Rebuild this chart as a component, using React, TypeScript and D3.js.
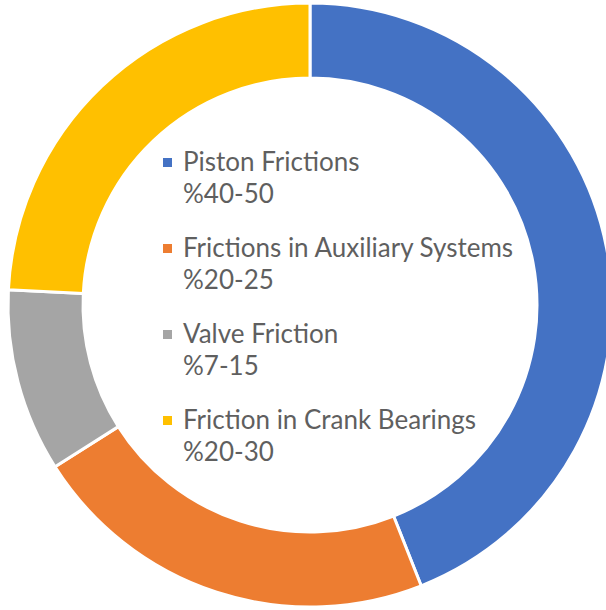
import React from "react";
import * as d3 from "d3";

const categories = ["Piston Frictions", "Frictions in Auxiliary Systems", "Valve Friction", "Friction in Crank Bearings"];
const rangeLabels = ["%40-50", "%20-25", "%7-15", "%20-30"];
const values = [44, 22, 9.8, 24.2];
const colors = ["#4472C4", "#ED7D31", "#A5A5A5", "#FFC000"];

const W = 606;
const H = 610;
const cx = 310;
const cy = 305;
const outerR = 302;
const innerR = 227;

export default function App() {
  const pie = d3.pie<number>().sort(null).value((d) => d);
  const arcs = pie(values);
  const arc = d3.arc<d3.PieArcDatum<number>>().innerRadius(innerR).outerRadius(outerR);

  const legendX = 163;
  const textX = 183;
  const firstBase = 171;
  const itemStep = 86;
  const lineStep = 32;

  return (
    <svg width={W} height={H} style={{ position: "absolute", left: 0, top: 0, background: "#fff" }}>
      <rect x={0} y={0} width={W} height={H} fill="#fff" />
      <g transform={`translate(${cx},${cy})`}>
        {arcs.map((a, i) => (
          <path key={i} d={arc(a) || ""} fill={colors[i]} stroke="#fff" strokeWidth={3} strokeLinejoin="round" />
        ))}
      </g>
      <g fontFamily="Lato, 'Open Sans', sans-serif" fontSize={26} fill="#5f5f5f">
        {categories.map((c, i) => {
          const base = firstBase + i * itemStep;
          return (
            <g key={c}>
              <rect x={legendX} y={base - 13} width={9} height={9} fill={colors[i]} />
              <text x={textX} y={base}>{c}</text>
              <text x={textX} y={base + lineStep}>{rangeLabels[i]}</text>
            </g>
          );
        })}
      </g>
    </svg>
  );
}
